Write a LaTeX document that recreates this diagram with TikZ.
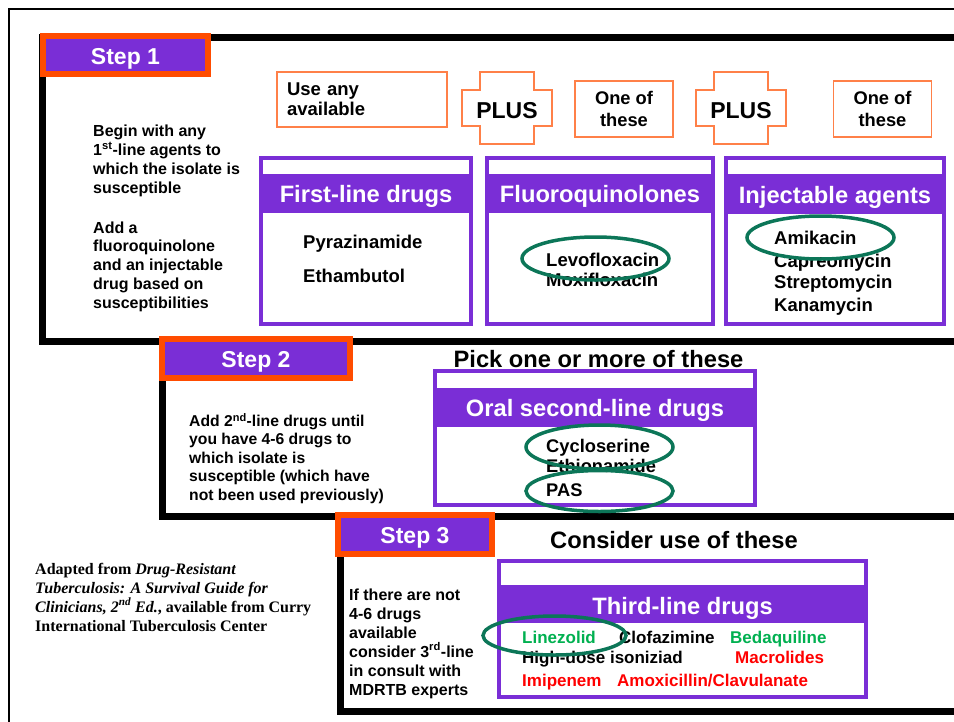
\documentclass[tikz,border=0pt]{standalone}
\usepackage{fontspec}
\setmainfont{Liberation Sans}
\newfontfamily\serifnote{Liberation Serif}
\usetikzlibrary{positioning}

\definecolor{drugpurple}{RGB}{122,46,214}
\definecolor{steporange}{RGB}{255,76,0}
\definecolor{hintorange}{RGB}{255,128,72}
\definecolor{ringgreen}{RGB}{12,118,88}
\definecolor{okgreen}{RGB}{0,176,80}
\definecolor{warnred}{RGB}{255,0,0}
\newcommand{\bfsize}[2]{\fontsize{#1}{#2}\selectfont\bfseries}

\begin{document}
\begin{tikzpicture}[
  x=1pt, y=-1pt,
  frame/.style={draw=black, line width=7pt},
  steplab/.style={draw=steporange, fill=drugpurple, line width=6pt, text=white,
    font=\bfsize{23}{26}, inner sep=0pt, text height=18pt, text depth=0pt},
  hint/.style={draw=hintorange, line width=1.4pt, fill=white, inner sep=0pt},
  drugbox/.style={draw=drugpurple, line width=4pt},
  band/.style={fill=drugpurple},
  head/.style={text=white, font=\bfsize{23.7}{26}, anchor=base, inner sep=0pt},
  title/.style={font=\bfsize{23.7}{26}, anchor=base, inner sep=0pt},
  drug/.style={font=\bfsize{18.5}{21}, anchor=base west, inner sep=0pt},
  third/.style={font=\bfsize{17}{20}, anchor=base west, inner sep=0pt},
  % multi-line notes: placed by the baseline of their last line
  note/.style={font=\bfsize{16}{18.7}, anchor=base west, align=left, inner sep=0pt},
  ring/.style={draw=ringgreen, line width=3.5pt}
]
  \useasboundingbox (0,0) rectangle (954,721);
  \clip (0,0) rectangle (954,721);

  % outer page frame
  \draw[line width=2pt] (9,740) -- (9,9) -- (980,9);

  % step frames, open to the right
  \draw[frame] (1000,37) -- (42,37) -- (42,341) -- (1000,341);
  \draw[frame] (162,341) -- (162,516) -- (1000,516);
  \draw[frame] (340,516) -- (340,711) -- (1000,711);

  \node[steplab, minimum width=165pt, minimum height=38pt] (step1) at (125.5,55) {Step 1};
  \node[steplab, minimum width=188pt, minimum height=39pt] (step2) at (256,358.5) {Step 2};
  \node[steplab, minimum width=154pt, minimum height=39pt] (step3) at (415,534.5) {Step 3};

  % Step 1
  \node[note] (beginnote) at (93,193) {Begin with any\\1\textsuperscript{st}-line agents to\\which the isolate is\\susceptible};
  \node[note] (addnote) at (93,308) {Add a\\fluoroquinolone\\and an injectable\\drug based on\\susceptibilities};

  \node[hint, minimum width=170pt, minimum height=55pt, text width=150pt, align=left,
    font=\bfsize{18.5}{20}] (useany) at (362,99.5) {Use any\\available};
  \foreach \cx/\nm in {507/plusa, 741/plusb} {
    \draw[hint] (\cx-27,72) -- (\cx+27,72) -- (\cx+27,90) -- (\cx+45,90) -- (\cx+45,126)
      -- (\cx+27,126) -- (\cx+27,144) -- (\cx-27,144) -- (\cx-27,126) -- (\cx-45,126)
      -- (\cx-45,90) -- (\cx-27,90) -- cycle;
    \node[font=\bfsize{23}{26}, anchor=base, inner sep=0pt] (\nm) at (\cx,118) {PLUS};
  }
  \node[hint, minimum width=98pt, minimum height=56pt, align=center,
    font=\bfsize{18.3}{21.5}] (oneofa) at (624,109) {One of\\these};
  \node[hint, minimum width=98pt, minimum height=56pt, align=center,
    font=\bfsize{18.3}{21.5}] (oneofb) at (882.5,109) {One of\\these};

  \draw[drugbox] (261,158) rectangle (471,324);
  \fill[band] (261,174) rectangle (471,213);
  \node[head] (firsthead) at (366,202) {First-line drugs};
  \node[drug] (pza) at (303,248) {Pyrazinamide};
  \node[drug] (emb) at (303,282) {Ethambutol};

  \draw[drugbox] (487,158) rectangle (713,324);
  \fill[band] (487,174) rectangle (713,213);
  \node[head] (fqhead) at (600,202) {Fluoroquinolones};
  \node[drug] (levo) at (546,266) {Levofloxacin};
  \node[drug] (moxi) at (546,286) {Moxifloxacin};

  \draw[drugbox] (726,158) rectangle (944,324);
  \fill[band] (726,174) rectangle (944,214);
  \node[head] (injhead) at (835,203) {Injectable agents};
  \node[drug] (amk) at (774,244) {Amikacin};
  \node[drug] (cap) at (774,267) {Capreomycin};
  \node[drug] (sm) at (774,288) {Streptomycin};
  \node[drug] (km) at (774,311) {Kanamycin};

  % Step 2
  \node[note, font=\bfsize{15.7}{18.4}] (step2note) at (189,500) {Add 2\textsuperscript{nd}-line drugs until\\you have 4-6 drugs to\\which isolate is\\susceptible (which have\\not been used previously)};
  \node[title] (pickone) at (598.5,367) {Pick one or more of these};
  \draw[drugbox] (435,371) rectangle (755,505);
  \fill[band] (435,388) rectangle (755,427);
  \node[head] (oralhead) at (595,416) {Oral second-line drugs};
  \node[drug, font=\bfsize{18.3}{21}] (cs) at (546,452) {Cycloserine};
  \node[drug, font=\bfsize{18.3}{21}] (eto) at (546,472) {Ethionamide};
  \node[drug, font=\bfsize{18.3}{21}] (pas) at (546,496) {PAS};

  % Step 3
  \node[note, font=\bfsize{16}{19}] (step3note) at (349,695) {If there are not\\4-6 drugs\\available\\consider 3\textsuperscript{rd}-line\\in consult with\\MDRTB experts};
  \node[title] (consider) at (674,548) {Consider use of these};
  \draw[drugbox] (499,561) rectangle (866,697);
  \fill[band] (499,585) rectangle (866,623);
  \node[head] (thirdhead) at (682.5,614) {Third-line drugs};
  \node[third, text=okgreen] (lzd) at (522,643) {Linezolid};
  \node[third] (cfz) at (619,643) {Clofazimine};
  \node[third, text=okgreen] (bdq) at (730,643) {Bedaquiline};
  \node[third] (inh) at (522,663) {High-dose isoniziad};
  \node[third, text=warnred] (mac) at (735,663) {Macrolides};
  \node[third, text=warnred] (imp) at (522,686) {Imipenem};
  \node[third, text=warnred] (amx) at (617,686) {Amoxicillin/Clavulanate};

  \node[note, font=\serifnote\bfsize{16}{19}] (source) at (35,631) {Adapted from \textit{Drug-Resistant}\\\textit{Tuberculosis: A Survival Guide for}\\\textit{Clinicians, 2\textsuperscript{nd} Ed.}, available from Curry\\International Tuberculosis Center};

  % green rings round the chosen drugs
  \draw[ring] (595.5,258.5) ellipse [x radius=73.5pt, y radius=21.5pt];
  \draw[ring] (820.5,237.5) ellipse [x radius=73.5pt, y radius=21.5pt];
  \draw[ring] (599.5,447) ellipse [x radius=73.5pt, y radius=22pt];
  \draw[ring] (599.5,491) ellipse [x radius=73.5pt, y radius=20.5pt];
  \draw[ring] (554.5,635.5) ellipse [x radius=71.5pt, y radius=19.5pt];
\end{tikzpicture}
\end{document}
